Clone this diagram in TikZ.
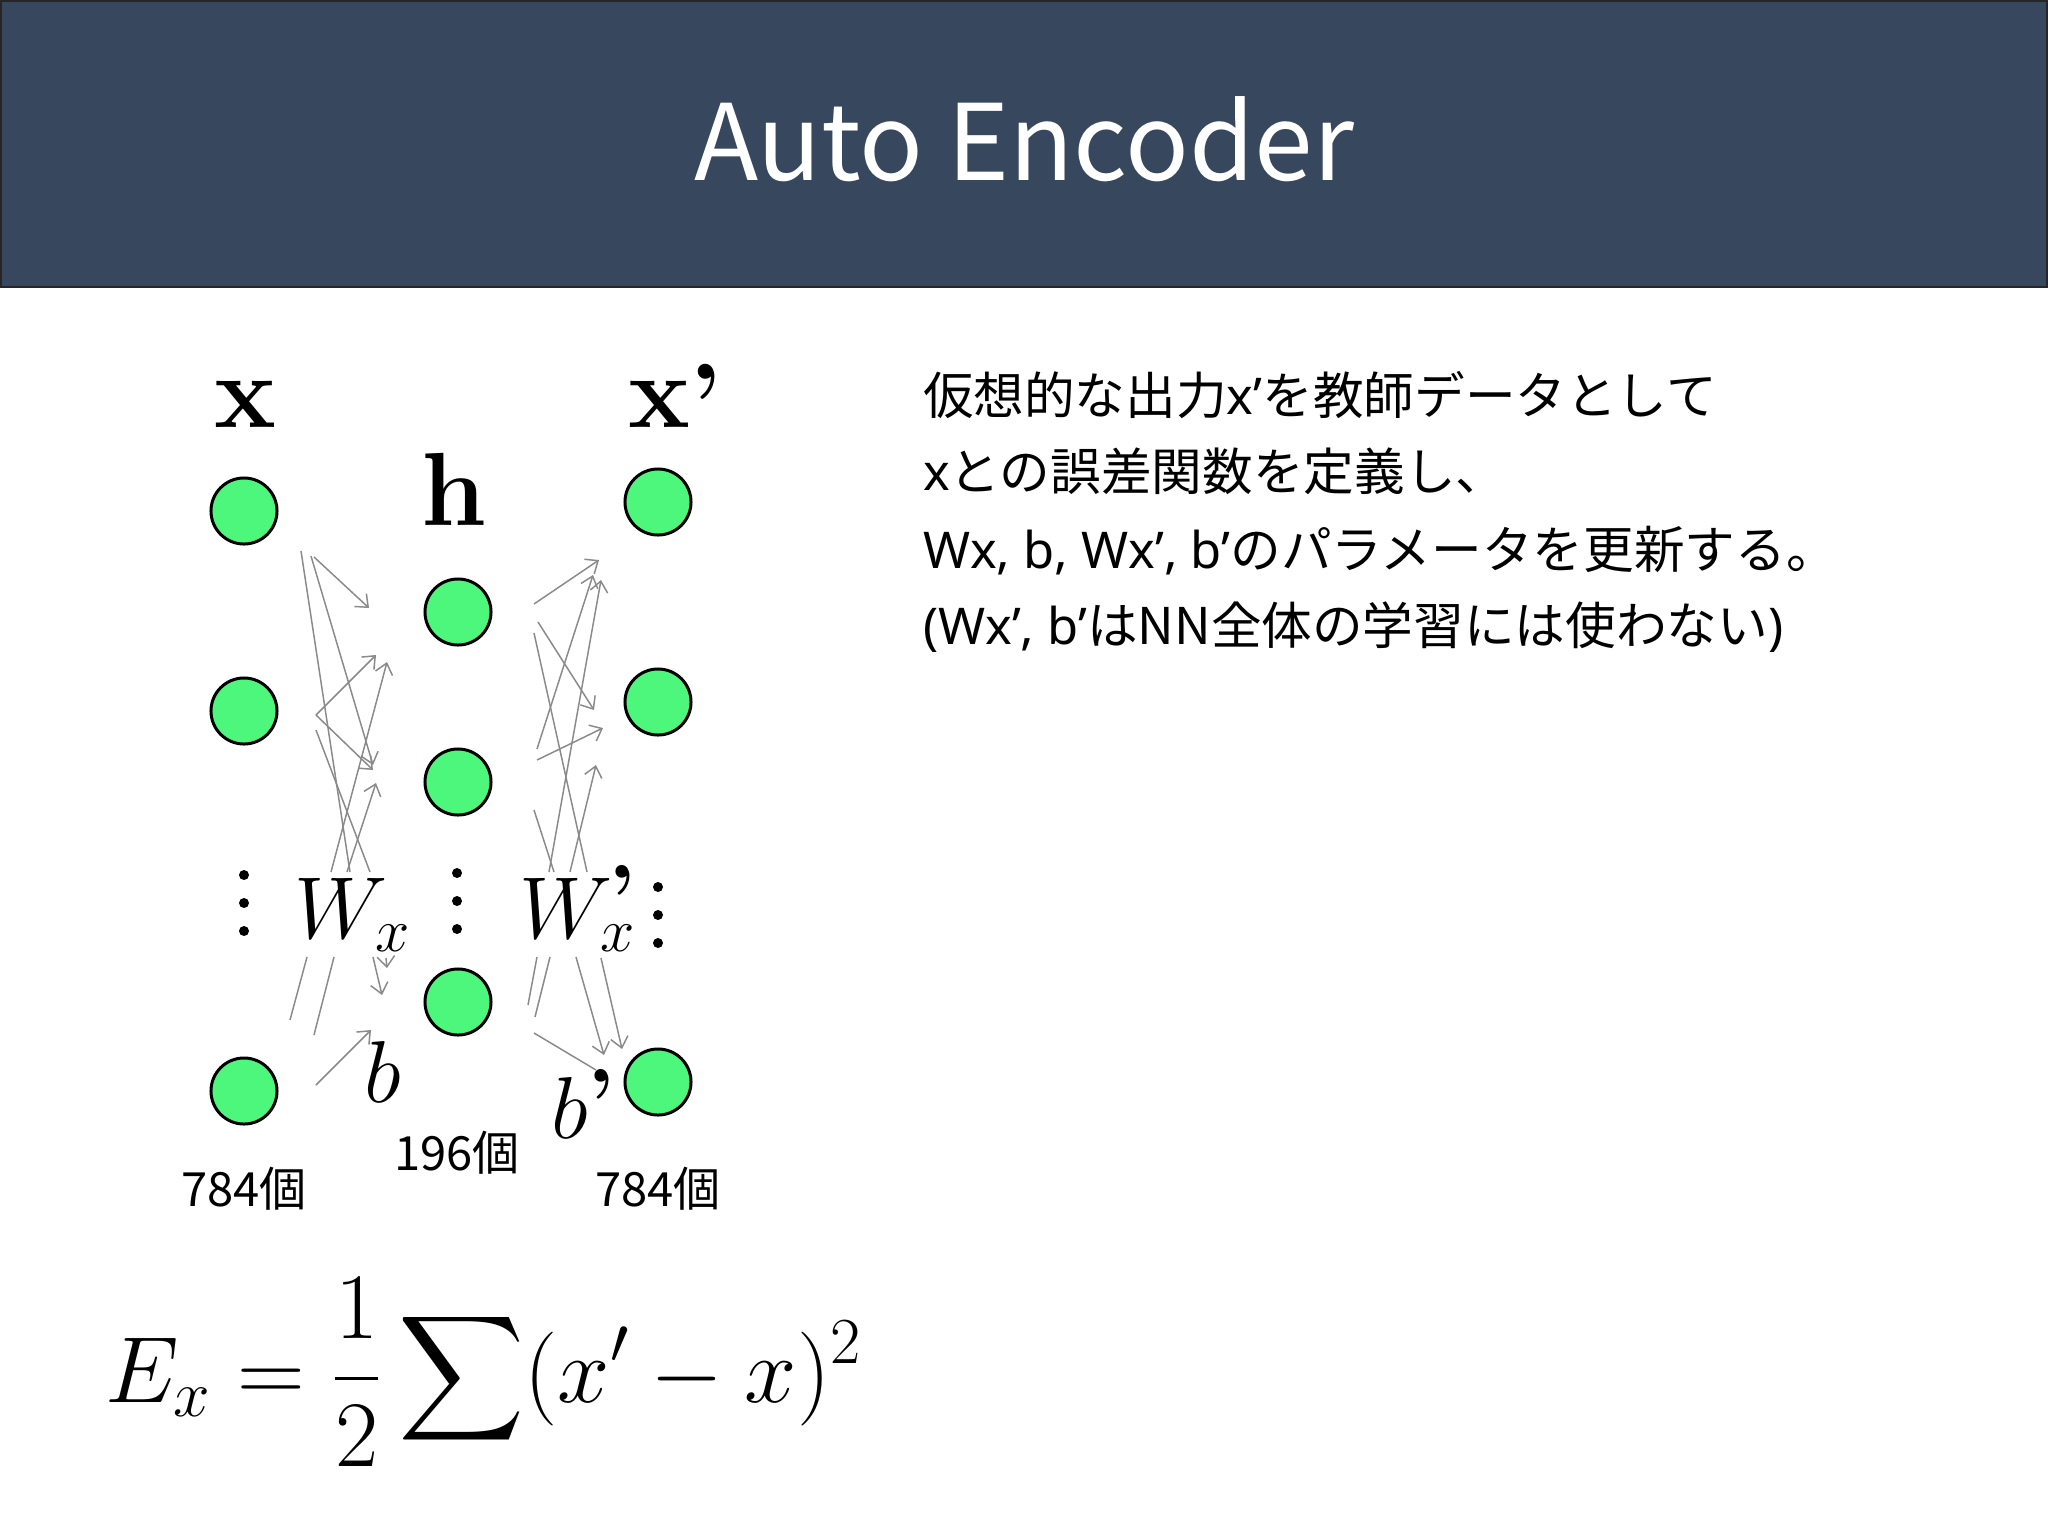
\RequirePackage{fix-cm}
\documentclass[tikz,border=0pt]{standalone}
\usepackage{amsmath}
\usepackage{fontspec}
\newfontfamily\jp{Noto Sans CJK JP}
\newfontfamily\lat{Noto Sans}
\usetikzlibrary{arrows.meta}
\definecolor{hdr}{HTML}{36475E}
\definecolor{neuron}{HTML}{4DF77C}
\definecolor{wirecol}{HTML}{8A8A8A}
\tikzset{
  neuronnode/.style={circle, draw=black, line width=0.85pt, fill=neuron, minimum size=0.66cm, inner sep=0pt},
  wireline/.style={draw=wirecol, line width=0.42pt},
  wirearrow/.style={wireline, -{Straight Barb[length=3pt,width=5pt]}},
  lbl/.style={inner sep=0pt, outer sep=0pt},
  jptext/.style={lbl, anchor=base west, font=\jp\fontsize{14.4pt}{17pt}\selectfont},
  counttext/.style={lbl, anchor=base, font=\jp\fontsize{13.4pt}{16pt}\selectfont},
  dotmark/.style={fill=black}
}
\begin{document}
\begin{tikzpicture}[x=0.01cm,y=-0.01cm]
\useasboundingbox (0,0) rectangle (2048,1536);
\fill[white] (0,0) rectangle (2048,1536);
% header
\fill[hdr] (0,0) rectangle (2048,287);
\draw[black!85, line width=0.6pt] (1,1) rectangle (2047,287);
\node[lbl, anchor=base, text=white, font=\jp\fontsize{30pt}{36pt}\selectfont] (title) at (1024,180) {Auto Encoder};

% layer labels
\node[lbl, anchor=base, font=\fontsize{29.6pt}{34pt}\selectfont\bfseries] (lx) at (245,427) {x};
\node[lbl, anchor=base west, font=\fontsize{29.6pt}{34pt}\selectfont\bfseries] (lxp) at (628,427) {x\raisebox{-2.8pt}{’}};
\node[lbl, anchor=base, font=\fontsize{29.6pt}{34pt}\selectfont\bfseries] (lh) at (454,525) {h};

% neurons
\node[neuronnode] (x1) at (244,511) {};
\node[neuronnode] (x2) at (244,711) {};
\node[neuronnode] (x3) at (244,1091) {};
\node[neuronnode] (h1) at (458,612) {};
\node[neuronnode] (h2) at (458,782) {};
\node[neuronnode] (h3) at (458,1002) {};
\node[neuronnode] (y1) at (658,502) {};
\node[neuronnode] (y2) at (658,702) {};
\node[neuronnode] (y3) at (658,1082) {};

% vertical ellipses
\foreach \yy in {875,903,931} \fill[dotmark] (244,\yy) circle[radius=0.05cm];
\foreach \yy in {873,901,929} \fill[dotmark] (457,\yy) circle[radius=0.05cm];
\foreach \yy in {887,915,943} \fill[dotmark] (658,\yy) circle[radius=0.05cm];

% weight / bias labels
\node[lbl, anchor=base west, font=\fontsize{25pt}{30pt}\selectfont] (wx) at (294,938) {$W_x$};
\node[lbl, anchor=base west, font=\fontsize{25pt}{30pt}\selectfont] (wxp) at (519,938) {$W_x$\llap{\raisebox{3.4pt}{\bfseries ’}}};
\node[lbl, anchor=base west, font=\fontsize{25pt}{30pt}\selectfont] (bb) at (364,1102) {$b$};
\node[lbl, anchor=base west, font=\fontsize{25pt}{30pt}\selectfont] (bbp) at (551,1138) {$b$\raisebox{2pt}{\bfseries ’}};

% counts
\node[counttext] (c1) at (244,1206) {784個};
\node[counttext] (c2) at (457,1170) {196個};
\node[counttext] (c3) at (658,1206) {784個};

% encoder wire fragments
\draw[wireline]  (301,551) -- (350,872);
\draw[wirearrow] (311,556) -- (373,765);
\draw[wirearrow] (314,557) -- (369,608);
\draw[wirearrow] (316,715) -- (376,655);
\draw[wirearrow] (316,715) -- (373,770);
\draw[wireline]  (316,730) -- (370,872);
\draw[wirearrow] (331,872) -- (387,662);
\draw[wirearrow] (347,872) -- (376,783);
\draw[wireline]  (307,957) -- (290,1020);
\draw[wireline]  (334,957) -- (314,1035);
\draw[wirearrow] (373,957) -- (382,995);
\draw[wirearrow] (386,958) -- (387,968);
\draw[wirearrow] (316,1085) -- (371,1030);

% decoder wire fragments
\draw[wirearrow] (534,604) -- (599,560);
\draw[wirearrow] (538,622) -- (594,710);
\draw[wireline]  (534,633) -- (587,872);
\draw[wirearrow] (537,749) -- (593,575);
\draw[wirearrow] (537,760) -- (603,728);
\draw[wirearrow] (549,872) -- (601,580);
\draw[wireline]  (534,810) -- (554,872);
\draw[wirearrow] (570,872) -- (596,765);
\draw[wireline]  (537,957) -- (528,1005);
\draw[wireline]  (550,957) -- (535,1017);
\draw[wirearrow] (576,957) -- (604,1055);
\draw[wirearrow] (601,958) -- (622,1049);
\draw[wireline]  (534,1033) -- (596,1070);

% formula
\node[lbl, anchor=base west, font=\fontsize{26.7pt}{32pt}\selectfont] (formula) at (105,1402) {$\displaystyle E_x=\frac{1}{2}\sum(x'-x)^2$};

% explanation text
\node[jptext] (t1) at (923,414) {仮想的な出力{\lat x’}を教師データとして};
\node[jptext] (t2) at (923,490) {{\lat x}との誤差関数を定義し、};
\node[jptext] (t3) at (923,568) {{\lat Wx, b, Wx’, b’}のパラメータを更新する。};
\node[jptext] (t4) at (923,644) {{\lat (Wx’, b’}はNN全体の学習には使わない{\lat )}};
\end{tikzpicture}
\end{document}
